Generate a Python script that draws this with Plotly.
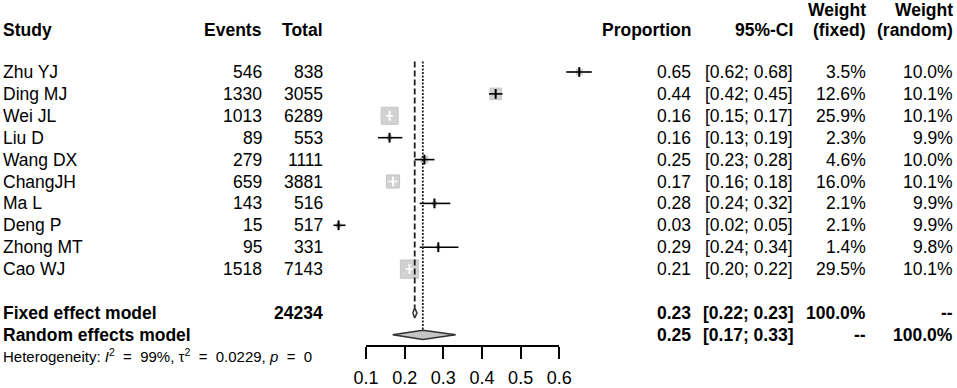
import math
import plotly.graph_objects as go

# ---------------- data ----------------
studies = ["Zhu YJ", "Ding MJ", "Wei JL", "Liu D", "Wang DX", "ChangJH", "Ma L", "Deng P", "Zhong MT", "Cao WJ"]
events = [546, 1330, 1013, 89, 279, 659, 143, 15, 95, 1518]
totals = [838, 3055, 6289, 553, 1111, 3881, 516, 517, 331, 7143]
proportion = [0.6516, 0.4354, 0.1611, 0.1609, 0.2511, 0.1698, 0.2771, 0.0290, 0.2870, 0.2125]
ci_low = [0.618, 0.418, 0.152, 0.131, 0.226, 0.158, 0.239, 0.016, 0.239, 0.203]
ci_high = [0.684, 0.453, 0.170, 0.194, 0.277, 0.182, 0.318, 0.047, 0.339, 0.222]
weight_fixed = [3.5, 12.6, 25.9, 2.3, 4.6, 16.0, 2.1, 2.1, 1.4, 29.5]
weight_random = [10.0, 10.1, 10.1, 9.9, 10.0, 10.1, 9.9, 9.9, 9.8, 10.1]

fixed_total = 24234
fixed_est, fixed_low, fixed_high = 0.226, 0.221, 0.232
random_est, random_low, random_high = 0.247, 0.169, 0.332
het_I2, het_tau2, het_p = "99%", "0.0229", "0"
x_ticks = [0.1, 0.2, 0.3, 0.4, 0.5, 0.6]

# ---------------- geometry ----------------
W, H = 957, 388
AX_L, AX_R = 366.0, 559.3          # pixel columns of the first/last tick
px_per_unit = (AX_R - AX_L) / (x_ticks[-1] - x_ticks[0])
x_range = [x_ticks[0] - AX_L / px_per_unit, x_ticks[0] + (W - AX_L) / px_per_unit]
ROW0, ROW_H = 72.0, 21.9
y_range = [(H - ROW0) / ROW_H, -ROW0 / ROW_H]
AXIS_Y = 345.0

n = len(studies)
rows = list(range(n))
ROW_FIXED, ROW_RANDOM, ROW_HET = n + 1, n + 2, n + 2.95
ROW_HEAD, ROW_HEAD_TOP = -1.9, -2.85

FONT = "Liberation Sans, Arial, sans-serif"
FS = 17.5
BLACK = "#000000"

fig = go.Figure()

# squares (area proportional to fixed weight)
sides = [3.54 * math.sqrt(w) for w in weight_fixed]
fig.add_trace(go.Scatter(
    x=proportion, y=rows, mode="markers",
    marker=dict(symbol="square", size=[s - 1 for s in sides], color="#c0c0c0",
                line=dict(color="#adadad", width=1)),
    hoverinfo="skip", showlegend=False))

inside = [(h - l) * px_per_unit < s for l, h, s in zip(ci_low, ci_high, sides)]


def seg_xy(idx):
    xs, ys = [], []
    for i in idx:
        xs += [ci_low[i], ci_high[i], None]
        ys += [rows[i], rows[i], None]
    return xs, ys


for flag, col in [(False, BLACK), (True, "#ffffff")]:
    idx = [i for i in range(n) if inside[i] == flag]
    xs, ys = seg_xy(idx)
    fig.add_trace(go.Scatter(x=xs, y=ys, mode="lines", line=dict(color=col, width=1.6),
                             hoverinfo="skip", showlegend=False))
    fig.add_trace(go.Scatter(
        x=[proportion[i] for i in idx], y=[rows[i] for i in idx], mode="markers",
        marker=dict(symbol="line-ns", size=7, line=dict(color=col, width=2)),
        hoverinfo="skip", showlegend=False))

# reference lines
DIA_F, DIA_R = 0.23, 0.21
fig.add_trace(go.Scatter(x=[fixed_est, fixed_est], y=[-0.48, ROW_FIXED - DIA_F],
                         mode="lines", line=dict(color="#202020", width=1.8, dash="6px,3px"),
                         hoverinfo="skip", showlegend=False))
fig.add_trace(go.Scatter(x=[random_est, random_est], y=[-0.48, ROW_RANDOM - DIA_R],
                         mode="lines", line=dict(color="#202020", width=1.8, dash="2px,1.5px"),
                         hoverinfo="skip", showlegend=False))

# diamonds
fig.add_trace(go.Scatter(
    x=[fixed_low, fixed_est, fixed_high, fixed_est, fixed_low],
    y=[ROW_FIXED, ROW_FIXED - DIA_F, ROW_FIXED, ROW_FIXED + DIA_F, ROW_FIXED],
    mode="lines", fill="toself", fillcolor="#f2f2f2", line=dict(color="#303030", width=1.5),
    hoverinfo="skip", showlegend=False))
fig.add_trace(go.Scatter(
    x=[random_low, random_est, random_high, random_est, random_low],
    y=[ROW_RANDOM, ROW_RANDOM - DIA_R, ROW_RANDOM, ROW_RANDOM + DIA_R, ROW_RANDOM],
    mode="lines", fill="toself", fillcolor="#c4c4c4", line=dict(color="#303030", width=1.5),
    hoverinfo="skip", showlegend=False))

# invisible trace for the tick axis
fig.add_trace(go.Scatter(x=[x_ticks[0], x_ticks[-1]], y=[0, 0], xaxis="x2", yaxis="y2",
                         mode="markers", marker=dict(opacity=0), hoverinfo="skip",
                         showlegend=False))

# ---------------- text columns ----------------
COL_STUDY, COL_EVENTS, COL_TOTAL = 2, 263, 323.5
COL_PROP, COL_CI, COL_WF, COL_WR = 692, 794, 867, 953.5

ann = []


def txt(text, px, row, anchor="right", bold=False, size=FS):
    t = "<b>%s</b>" % text if bold else text
    ann.append(dict(text=t, x=px / W, xref="paper", y=row, yref="y", xanchor=anchor,
                    yanchor="middle", showarrow=False, borderpad=0,
                    font=dict(family=FONT, size=size, color=BLACK)))


# header
txt("Study", COL_STUDY, ROW_HEAD, "left", True)
txt("Events", COL_EVENTS, ROW_HEAD, bold=True)
txt("Total", COL_TOTAL, ROW_HEAD, bold=True)
txt("Proportion", COL_PROP, ROW_HEAD, bold=True)
txt("95%-CI", COL_CI, ROW_HEAD, bold=True)
txt("Weight", COL_WF, ROW_HEAD_TOP, bold=True)
txt("(fixed)", COL_WF, ROW_HEAD, bold=True)
txt("Weight", COL_WR, ROW_HEAD_TOP, bold=True)
txt("(random)", COL_WR, ROW_HEAD, bold=True)

for i in range(n):
    txt(studies[i], COL_STUDY, rows[i], "left")
    txt(str(events[i]), COL_EVENTS, rows[i])
    txt(str(totals[i]), COL_TOTAL, rows[i])
    txt("%.2f" % proportion[i], COL_PROP, rows[i])
    txt("[%.2f; %.2f]" % (ci_low[i], ci_high[i]), COL_CI, rows[i])
    txt("%.1f%%" % weight_fixed[i], COL_WF, rows[i])
    txt("%.1f%%" % weight_random[i], COL_WR, rows[i])

txt("Fixed effect model", COL_STUDY, ROW_FIXED, "left", True)
txt(str(fixed_total), COL_TOTAL, ROW_FIXED, bold=True)
txt("%.2f" % fixed_est, COL_PROP, ROW_FIXED, bold=True)
txt("[%.2f; %.2f]" % (fixed_low, fixed_high), COL_CI, ROW_FIXED, bold=True)
txt("100.0%", COL_WF, ROW_FIXED, bold=True)
txt("--", COL_WR, ROW_FIXED, bold=True)

txt("Random effects model", COL_STUDY, ROW_RANDOM, "left", True)
txt("%.2f" % random_est, COL_PROP, ROW_RANDOM, bold=True)
txt("[%.2f; %.2f]" % (random_low, random_high), COL_CI, ROW_RANDOM, bold=True)
txt("--", COL_WF, ROW_RANDOM, bold=True)
txt("100.0%", COL_WR, ROW_RANDOM, bold=True)

NB = "\u00a0"
EQ = NB * 2 + "=" + NB * 2
txt("Heterogeneity: <i>I</i><sup>2</sup>%s%s, τ<sup>2</sup>%s%s, <i>p</i>%s%s"
    % (EQ, het_I2, EQ, het_tau2, EQ, het_p), COL_STUDY, ROW_HET, "left", size=15)

fig.update_layout(
    width=W, height=H, autosize=False,
    margin=dict(l=0, r=0, t=0, b=0, pad=0, autoexpand=False),
    paper_bgcolor="white", plot_bgcolor="rgba(0,0,0,0)",
    showlegend=False, annotations=ann,
    xaxis=dict(domain=[0, 1], range=x_range, visible=False, fixedrange=True, automargin=False),
    yaxis=dict(domain=[0, 1], range=y_range, visible=False, fixedrange=True, automargin=False),
    xaxis2=dict(domain=[AX_L / W, AX_R / W], range=[x_ticks[0], x_ticks[-1]], anchor="y2",
                side="bottom", showline=True, linecolor=BLACK, linewidth=1.5,
                ticks="outside", ticklen=12, tickwidth=1.5, tickcolor=BLACK,
                tickvals=x_ticks, ticktext=["%.1f" % t for t in x_ticks],
                tickfont=dict(family=FONT, size=18, color=BLACK),
                ticklabelstandoff=4, automargin=False,
                showgrid=False, zeroline=False, fixedrange=True),
    yaxis2=dict(domain=[(H - AXIS_Y) / H, 1], range=[0, 1], visible=False, fixedrange=True,
                automargin=False),
)

fig.write_html("out.html", config={"displayModeBar": False},
               post_script="document.body.style.margin='0';"
                           "document.body.style.overflow='hidden';")
